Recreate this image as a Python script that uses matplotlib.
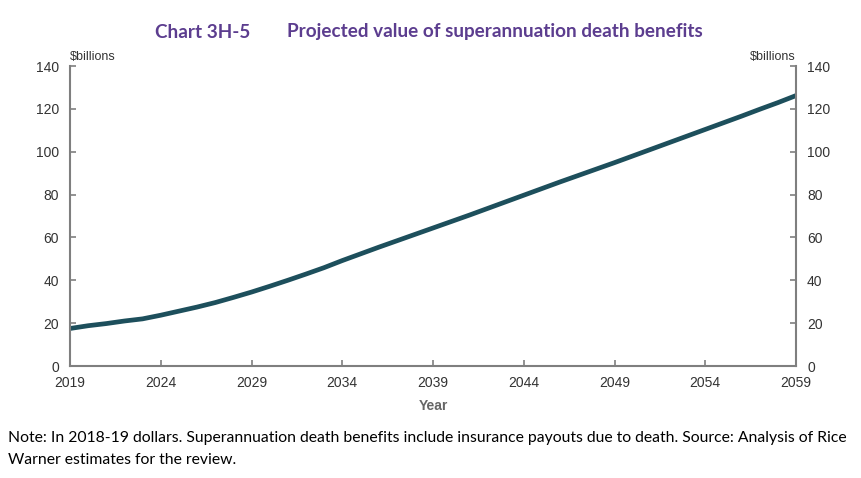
import numpy as np
import matplotlib
matplotlib.use('Agg')
import matplotlib.pyplot as plt

years = np.arange(2019, 2060)
benefits = [17.5, 18.8, 19.8, 21.0, 22.0, 23.7, 25.6, 27.5, 29.6, 32.0,
            34.5, 37.2, 40.0, 42.9, 45.9, 49.2, 52.3, 55.4, 58.4, 61.4,
            64.4, 67.4, 70.4, 73.5, 76.6, 79.7, 82.8, 85.9, 88.9, 91.9,
            94.9, 98.0, 101.1, 104.2, 107.3, 110.4, 113.5, 116.6, 119.8, 122.9,
            126.2]
xticks = [2019, 2024, 2029, 2034, 2039, 2044, 2049, 2054, 2059]
yticks = [0, 20, 40, 60, 80, 100, 120, 140]

GREY = '#7f7f7f'
TXT = '#333333'
PURPLE = '#5c3d8f'

fig = plt.figure(figsize=(8.62, 4.78), dpi=100)
ax = fig.add_axes([70/862, 1-366/478, 726/862, 300/478])
ax.plot(years, benefits, color='#1d4f5c', lw=3.4, solid_capstyle='round')
ax.set_xlim(2019, 2059)
ax.set_ylim(0, 140)

ax.set_xticks(xticks)
ax.set_yticks(yticks)
for s in ['left', 'right', 'bottom']:
    ax.spines[s].set_color(GREY)
    ax.spines[s].set_linewidth(1.5)
ax.spines['top'].set_visible(False)
ax.tick_params(axis='both', direction='in', length=4, width=1.2, color=GREY,
               labelsize=10, labelcolor=TXT)
ax.tick_params(axis='y', right=True, labelright=True, pad=8)
ax.tick_params(axis='x', pad=7)
for lab in ax.get_xticklabels() + ax.get_yticklabels():
    lab.set_family('Liberation Sans')

ax.set_xlabel('Year', fontsize=10, fontweight='bold', color='#666666',
              family='Liberation Sans', labelpad=7)
ax.text(0.0, 1.01, '$billions', transform=ax.transAxes, fontsize=9,
        color=TXT, family='Liberation Sans', ha='left', va='bottom')
ax.text(1.0, 1.01, '$billions', transform=ax.transAxes, fontsize=9,
        color=TXT, family='Liberation Sans', ha='right', va='bottom')

fig.text(155/862, 1-32/478, 'Chart 3H-5', fontsize=13.6, fontweight='bold',
         color=PURPLE, family='Lato', va='center', ha='left')
fig.text(287/862, 1-32/478, 'Projected value of superannuation death benefits',
         fontsize=13.6, fontweight='bold', color=PURPLE, family='Lato',
         va='center', ha='left')

fig.text(8/862, 1-438/478, 'Note: In 2018-19 dollars. Superannuation death benefits include '
         'insurance payouts due to death. Source: Analysis of Rice',
         fontsize=11.3, color='black', family='Lato', va='center', ha='left')
fig.text(8/862, 1-460/478, 'Warner estimates for the review.',
         fontsize=11.3, color='black', family='Lato', va='center', ha='left')

fig.savefig('out.png', dpi=100)
